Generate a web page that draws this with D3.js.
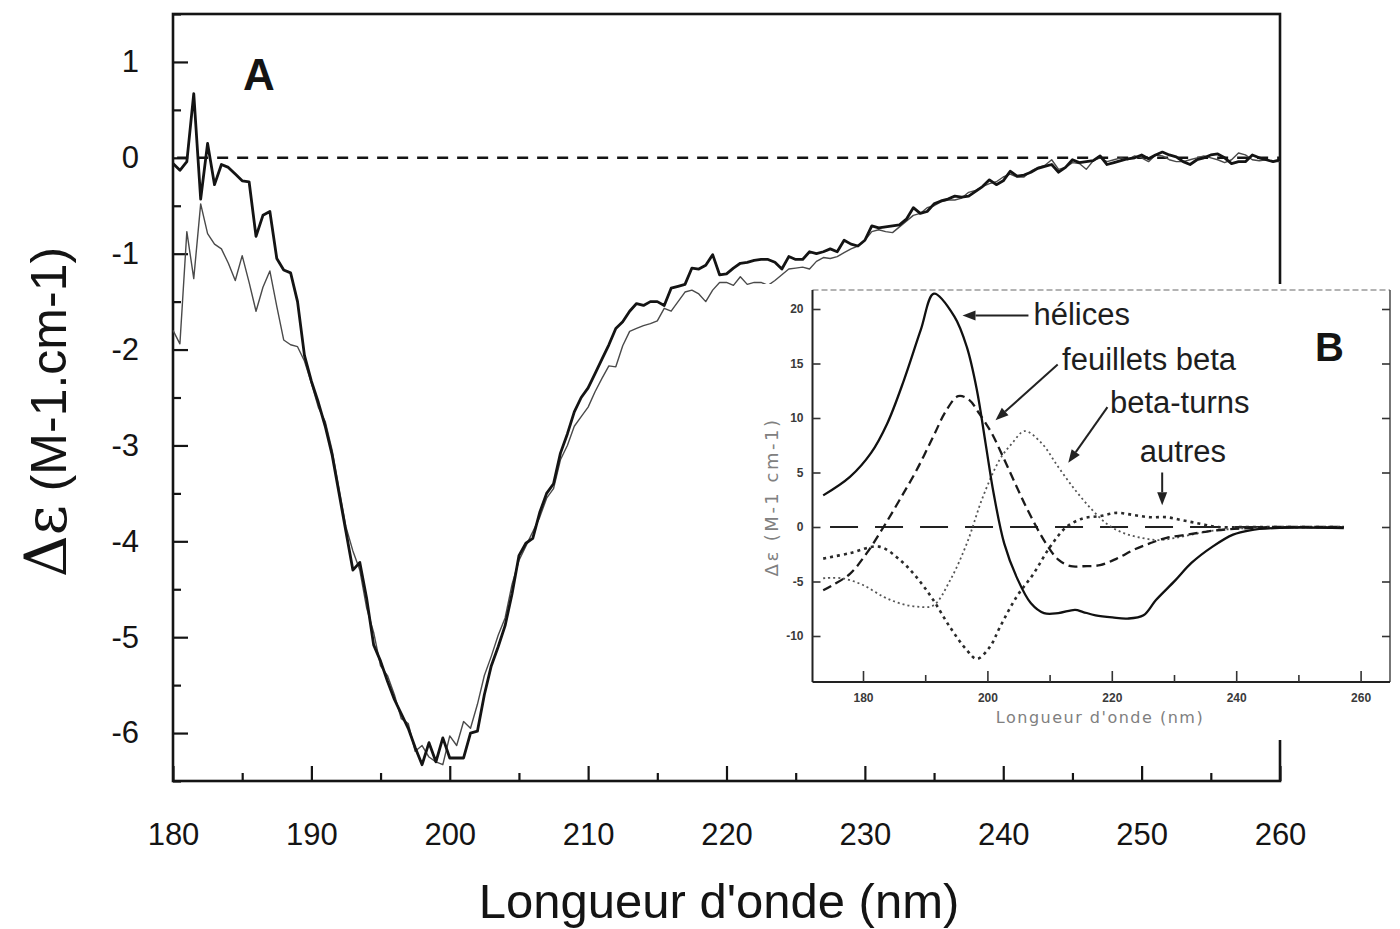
<!DOCTYPE html>
<html>
<head>
<meta charset="utf-8">
<script src="https://cdn.jsdelivr.net/npm/d3@7"></script>
<style>
  body { margin: 0; background: #fff; }
  svg { display: block; font-family: "Liberation Sans", Arial, Helvetica, sans-serif; }
</style>
</head>
<body>
<svg id="chart" width="1400" height="929"></svg>
<script>
// ---- Panel A : measured CD spectra (0.5 nm steps) ----
const wavelengths = [
  180,180.5,181,181.5,182,182.5,183,183.5,184,184.5,185,185.5,186,186.5,187,187.5,188,188.5,189,189.5,
  190,190.5,191,191.5,192,192.5,193,193.5,194,194.5,195,195.5,196,196.5,197,197.5,198,198.5,199,199.5,
  200,200.5,201,201.5,202,202.5,203,203.5,204,204.5,205,205.5,206,206.5,207,207.5,208,208.5,209,209.5,
  210,210.5,211,211.5,212,212.5,213,213.5,214,214.5,215,215.5,216,216.5,217,217.5,218,218.5,219,219.5,
  220,220.5,221,221.5,222,222.5,223,223.5,224,224.5,225,225.5,226,226.5,227,227.5,228,228.5,229,229.5,
  230,230.5,231,231.5,232,232.5,233,233.5,234,234.5,235,235.5,236,236.5,237,237.5,238,238.5,239,239.5,
  240,240.5,241,241.5,242,242.5,243,243.5,244,244.5,245,245.5,246,246.5,247,247.5,248,248.5,249,249.5,
  250,250.5,251,251.5,252,252.5,253,253.5,254,254.5,255,255.5,256,256.5,257,257.5,258,258.5,259,259.5,
  260
];
const spectrumBold = [
  -0.06,-0.13,-0.04,0.67,-0.43,0.15,-0.28,-0.07,-0.10,-0.17,-0.24,-0.25,-0.82,-0.60,-0.56,-1.05,-1.17,-1.20,-1.50,-2.06,
  -2.33,-2.55,-2.80,-3.10,-3.50,-3.90,-4.30,-4.22,-4.60,-5.08,-5.25,-5.46,-5.65,-5.80,-5.95,-6.15,-6.33,-6.10,-6.30,-6.05,
  -6.26,-6.26,-6.26,-6.00,-5.98,-5.60,-5.30,-5.10,-4.88,-4.55,-4.15,-4.02,-3.97,-3.70,-3.50,-3.40,-3.08,-2.88,-2.65,-2.50,
  -2.40,-2.25,-2.10,-1.95,-1.78,-1.71,-1.60,-1.52,-1.54,-1.50,-1.50,-1.54,-1.36,-1.34,-1.32,-1.15,-1.16,-1.12,-1.01,-1.22,
  -1.21,-1.15,-1.10,-1.09,-1.07,-1.06,-1.06,-1.09,-1.16,-1.03,-1.06,-1.06,-0.98,-1.00,-0.98,-0.95,-0.98,-0.86,-0.90,-0.92,
  -0.86,-0.71,-0.73,-0.72,-0.71,-0.70,-0.64,-0.52,-0.58,-0.56,-0.48,-0.45,-0.43,-0.40,-0.41,-0.40,-0.35,-0.30,-0.23,-0.28,
  -0.24,-0.14,-0.19,-0.18,-0.15,-0.11,-0.09,-0.07,-0.15,-0.10,-0.02,-0.05,-0.04,-0.03,0.02,-0.07,-0.05,-0.03,-0.01,0.00,
  0.03,-0.01,0.03,0.06,0.03,0.01,-0.04,-0.07,-0.02,0.00,0.03,0.04,0.00,-0.06,-0.04,-0.04,0.03,0.00,-0.02,-0.04,
  -0.02
];
const spectrumThin = [
  -1.80,-1.94,-0.77,-1.26,-0.48,-0.79,-0.90,-0.95,-1.10,-1.28,-1.02,-1.30,-1.60,-1.35,-1.18,-1.55,-1.90,-1.95,-1.97,-2.12,
  -2.35,-2.60,-2.75,-3.05,-3.45,-3.85,-4.10,-4.30,-4.70,-4.95,-5.30,-5.40,-5.60,-5.85,-5.90,-6.19,-6.13,-6.25,-6.30,-6.33,
  -6.03,-6.13,-5.88,-5.95,-5.70,-5.40,-5.20,-4.98,-4.80,-4.45,-4.20,-4.05,-3.90,-3.75,-3.55,-3.45,-3.15,-3.00,-2.80,-2.70,
  -2.60,-2.44,-2.30,-2.17,-2.18,-1.96,-1.81,-1.78,-1.75,-1.73,-1.70,-1.57,-1.60,-1.50,-1.40,-1.38,-1.42,-1.50,-1.38,-1.30,
  -1.30,-1.33,-1.24,-1.32,-1.30,-1.30,-1.33,-1.28,-1.22,-1.16,-1.15,-1.14,-1.16,-1.08,-1.04,-1.05,-1.03,-0.99,-0.95,-0.92,
  -0.86,-0.77,-0.75,-0.77,-0.78,-0.72,-0.66,-0.60,-0.58,-0.52,-0.50,-0.46,-0.44,-0.44,-0.42,-0.36,-0.34,-0.30,-0.27,-0.25,
  -0.20,-0.17,-0.20,-0.20,-0.14,-0.10,-0.08,-0.02,-0.12,-0.10,-0.05,-0.06,-0.12,-0.03,0.00,-0.04,-0.02,0.00,-0.02,0.02,
  0.00,-0.04,0.03,0.02,-0.02,-0.04,-0.04,-0.02,0.00,0.02,0.00,-0.02,-0.05,-0.02,0.05,0.03,-0.02,-0.03,-0.02,-0.04,
  -0.04
];
const xTicksMajorA = [180,190,200,210,220,230,240,250,260];
const xTicksMinorA = [185,195,205,215,225,235,245,255];
const yTicksMajorA = [-6,-5,-4,-3,-2,-1,0,1];
const yTicksMinorA = [-6.5,-5.5,-4.5,-3.5,-2.5,-1.5,-0.5,0.5,1.5];

// ---- Panel B : reference spectra of the secondary structures ----
const helixNm  = [173.6,177.9,181.3,183.9,186.6,189.3,191.4,194.7,196.7,198.3,199.7,201.0,202.7,204.7,207.0,209.1,211.4,214.1,215.4,217.4,220.1,222.5,225.1,227.1,230.2,232.8,236.2,239.5,242.2,246.2,257.3];
const helixVal = [2.9,4.6,6.8,9.5,13.5,18.1,21.4,19.3,16.5,12.6,7.7,3.1,-1.5,-4.6,-7.0,-7.9,-7.9,-7.6,-7.8,-8.1,-8.3,-8.4,-8.1,-6.7,-4.9,-3.3,-1.8,-0.7,-0.3,-0.1,-0.1];
const sheetNm  = [173.6,175.2,177.9,180.6,183.3,185.9,188.6,191.3,193.3,195.3,197.0,198.7,200.7,202.7,204.7,206.7,209.4,211.4,213.4,215.4,218.1,220.8,223.5,226.1,228.8,232.2,235.5,238.9,242.2,245.4,257.3];
const sheetVal = [-5.8,-5.3,-4.3,-2.4,0.0,2.5,5.2,8.3,10.6,12.0,11.7,10.4,8.6,6.2,3.7,1.3,-1.5,-3.0,-3.6,-3.6,-3.5,-2.9,-2.1,-1.5,-1.0,-0.7,-0.4,-0.2,-0.1,0.0,0.0];
const turnNm   = [173.6,176.6,179.9,183.3,185.9,188.6,191.3,194.0,196.7,199.3,202.0,204.0,206.0,208.7,211.4,214.1,216.8,219.4,222.1,224.8,227.5,230.2,232.8,235.5,238.9,242.2,257.3];
const turnVal  = [-4.7,-4.7,-5.3,-6.4,-7.0,-7.3,-7.2,-4.9,-1.5,2.8,6.2,7.7,8.8,7.7,5.5,3.4,1.6,0.2,-0.6,-1.0,-1.2,-1.0,-0.7,-0.4,-0.2,-0.1,0.0];
const otherNm  = [173.6,177.9,182.6,185.9,188.6,191.3,194.0,196.7,198.3,200.4,202.0,204.7,207.4,210.1,212.7,215.4,218.1,220.8,223.5,226.1,228.8,231.5,234.2,236.9,242.2,257.3];
const otherVal = [-2.9,-2.4,-1.8,-3.0,-4.6,-6.7,-9.2,-11.3,-12.1,-11.0,-9.2,-6.4,-4.3,-1.8,0.0,0.8,1.0,1.3,1.1,0.9,0.9,0.6,0.3,0.0,0.0,0.0];
const xTicksB = [180,190,200,210,220,230,240,250,260];
const yTicksB = [-10,-5,0,5,10,15,20];
const labelsB = ["hélices","feuillets beta","beta-turns","autres"];

const svg = d3.select("#chart");
const ink = "#141414";

// ================= Panel A =================
const x = d3.scaleLinear().domain([180, 260]).range([173, 1280]);
const y = d3.scaleLinear().domain([-6.5, 1.5]).range([781, 14]);

const gA = svg.append("g");

// frame
gA.append("rect").attr("x", x(180)).attr("y", y(1.5))
  .attr("width", x(260) - x(180)).attr("height", y(-6.5) - y(1.5))
  .attr("fill", "none").attr("stroke", ink).attr("stroke-width", 2.6);

// left axis (ticks pointing inward)
const yMajor = gA.append("g").attr("transform", `translate(${x(180)},0)`)
  .call(d3.axisLeft(y).tickValues(yTicksMajorA).tickSize(-15).tickSizeOuter(0)
    .tickPadding(34).tickFormat(d => String(d)));
const yMinor = gA.append("g").attr("transform", `translate(${x(180)},0)`)
  .call(d3.axisLeft(y).tickValues(yTicksMinorA).tickSize(-8).tickSizeOuter(0).tickFormat(""));
// bottom axis
const xMajor = gA.append("g").attr("transform", `translate(0,${y(-6.5)})`)
  .call(d3.axisBottom(x).tickValues(xTicksMajorA).tickSize(-15).tickSizeOuter(0)
    .tickPadding(42).tickFormat(d => String(d)));
const xMinor = gA.append("g").attr("transform", `translate(0,${y(-6.5)})`)
  .call(d3.axisBottom(x).tickValues(xTicksMinorA).tickSize(-8).tickSizeOuter(0).tickFormat(""));

[yMajor, yMinor, xMajor, xMinor].forEach(a => {
  a.select(".domain").remove();
  a.selectAll("line").attr("stroke", ink).attr("stroke-width", 2.2);
  a.selectAll("text").attr("fill", ink).style("font-size", "31px")
    .style("font-family", "'Liberation Sans', Arial, sans-serif");
});

// zero reference
gA.append("line").attr("x1", x(180.3)).attr("x2", x(260)).attr("y1", y(0)).attr("y2", y(0))
  .attr("stroke", ink).attr("stroke-width", 2.6).attr("stroke-dasharray", "11,9");

const lineA = d3.line().x((d, i) => x(wavelengths[i])).y(d => y(d));
gA.append("path").datum(spectrumThin).attr("d", lineA)
  .attr("fill", "none").attr("stroke", "#4a4a4a").attr("stroke-width", 1.4)
  .attr("stroke-linejoin", "round");
gA.append("path").datum(spectrumBold).attr("d", lineA)
  .attr("fill", "none").attr("stroke", ink).attr("stroke-width", 2.8)
  .attr("stroke-linejoin", "round");

// panel letter and titles
gA.append("text").attr("x", 243).attr("y", 90).text("A")
  .attr("font-weight", "bold").attr("font-size", 44).attr("fill", ink);
gA.append("text").attr("x", 719).attr("y", 918).attr("text-anchor", "middle")
  .attr("font-size", 49).attr("fill", ink).text("Longueur d'onde (nm)");
const yTitle = gA.append("text").attr("transform", "translate(66,412) rotate(-90)")
  .attr("text-anchor", "middle").attr("fill", ink);
yTitle.append("tspan").attr("font-size", 58).attr("font-family", "'DejaVu Serif', serif").text("Δε");
yTitle.append("tspan").attr("font-size", 50).text(" (M-1.cm-1)");

// ================= Panel B (inset) =================
const ix = d3.scaleLinear().domain([180, 260]).range([863, 1360.6]);
const iy = d3.scaleLinear().domain([-10, 20]).range([636, 309]);
const gB = svg.append("g");

gB.append("rect").attr("x", 756).attr("y", 284).attr("width", 644).attr("height", 456).attr("fill", "#fff");

const bx0 = 812.5, bx1 = 1390, by0 = 290, by1 = 682;
// frame: dark left and bottom axes, faint top and right edges
gB.append("line").attr("x1", bx0).attr("x2", bx1).attr("y1", by0).attr("y2", by0)
  .attr("stroke", "#9a9a9a").attr("stroke-width", 1.6).attr("stroke-dasharray", "6,3");
gB.append("line").attr("x1", bx1).attr("x2", bx1).attr("y1", by0).attr("y2", by1)
  .attr("stroke", "#555").attr("stroke-width", 1.6);
gB.append("line").attr("x1", bx0).attr("x2", bx0).attr("y1", by0).attr("y2", by1)
  .attr("stroke", "#222").attr("stroke-width", 2);
gB.append("line").attr("x1", bx0).attr("x2", bx1).attr("y1", by1).attr("y2", by1)
  .attr("stroke", "#222").attr("stroke-width", 2.2);

const bLeft = gB.append("g").attr("transform", `translate(${bx0},0)`)
  .call(d3.axisLeft(iy).tickValues(yTicksB).tickSize(-8).tickPadding(9).tickFormat(d => String(d)));
const bRight = gB.append("g").attr("transform", `translate(${bx1},0)`)
  .call(d3.axisRight(iy).tickValues(yTicksB).tickSize(-8).tickFormat(""));
const bBottom = gB.append("g").attr("transform", `translate(0,${by1})`)
  .call(d3.axisBottom(ix).tickValues(xTicksB).tickSize(-7).tickPadding(11)
    .tickFormat(d => (d % 20 === 0 ? String(d) : "")));
[bLeft, bRight, bBottom].forEach(a => {
  a.select(".domain").remove();
  a.selectAll("line").attr("stroke", "#333").attr("stroke-width", 1.6);
  a.selectAll("text").attr("fill", "#3a3a3a").style("font-size", "12px").style("font-weight", "bold")
    .style("font-family", "'Liberation Sans', Arial, sans-serif");
});
bBottom.selectAll(".tick line").filter(d => d % 20 === 0).attr("y2", -11);

// zero line of the inset
gB.append("line").attr("x1", ix(174.7)).attr("x2", ix(257.3)).attr("y1", iy(0)).attr("y2", iy(0))
  .attr("stroke", "#222").attr("stroke-width", 2.2).attr("stroke-dasharray", "28,17");

const lineB = (nm) => d3.line().x((d, i) => ix(nm[i])).y(d => iy(d)).curve(d3.curveCatmullRom.alpha(0.5));
gB.append("path").datum(otherVal).attr("d", lineB(otherNm)).attr("fill", "none")
  .attr("stroke", "#2a2a2a").attr("stroke-width", 2.6).attr("stroke-dasharray", "3,4");
gB.append("path").datum(turnVal).attr("d", lineB(turnNm)).attr("fill", "none")
  .attr("stroke", "#555").attr("stroke-width", 1.8).attr("stroke-dasharray", "2,3");
gB.append("path").datum(sheetVal).attr("d", lineB(sheetNm)).attr("fill", "none")
  .attr("stroke", "#1a1a1a").attr("stroke-width", 2.3).attr("stroke-dasharray", "9,5");
gB.append("path").datum(helixVal).attr("d", lineB(helixNm)).attr("fill", "none")
  .attr("stroke", "#111").attr("stroke-width", 2.3);

// annotations (positions in inset data units)
const notes = [
  { text: labelsB[0], tx: 207.4, ty: 18.5, from: [206.6, 19.4], to: [196.0, 19.4] },
  { text: labelsB[1], tx: 212.0, ty: 14.4, from: [211.3, 14.9], to: [201.3, 9.8] },
  { text: labelsB[2], tx: 219.7, ty: 10.5, from: [219.3, 11.0], to: [213.0, 5.9] },
  { text: labelsB[3], tx: 224.5, ty: 6.0, from: [228.1, 5.0], to: [228.1, 2.0] }
];
notes.forEach(n => {
  const x1 = ix(n.from[0]), y1 = iy(n.from[1]), x2 = ix(n.to[0]), y2 = iy(n.to[1]);
  const ang = Math.atan2(y2 - y1, x2 - x1), L = 13, W = 5;
  const bx = x2 - L * Math.cos(ang), by = y2 - L * Math.sin(ang);
  gB.append("line").attr("x1", x1).attr("y1", y1).attr("x2", bx).attr("y2", by)
    .attr("stroke", "#222").attr("stroke-width", 2);
  gB.append("path").attr("fill", "#222").attr("d",
    `M${x2},${y2}L${bx - W * Math.sin(ang)},${by + W * Math.cos(ang)}L${bx + W * Math.sin(ang)},${by - W * Math.cos(ang)}Z`);
  gB.append("text").attr("x", ix(n.tx)).attr("y", iy(n.ty)).text(n.text)
    .attr("font-size", 31).attr("fill", "#1e1e1e");
});

gB.append("text").attr("x", 1315).attr("y", 361).text("B")
  .attr("font-weight", "bold").attr("font-size", 40).attr("fill", ink);
gB.append("text").attr("x", 1100).attr("y", 723).attr("text-anchor", "middle")
  .attr("font-size", 16).attr("letter-spacing", 1.5).attr("font-family", "'DejaVu Sans', sans-serif")
  .attr("fill", "#808080").text("Longueur d'onde (nm)");
gB.append("text").attr("transform", "translate(778,497) rotate(-90)").attr("text-anchor", "middle")
  .attr("font-size", 18).attr("letter-spacing", 2.5).attr("font-family", "'DejaVu Sans', sans-serif")
  .attr("fill", "#808080").text("Δε (M-1 cm-1)");
</script>
</body>
</html>
